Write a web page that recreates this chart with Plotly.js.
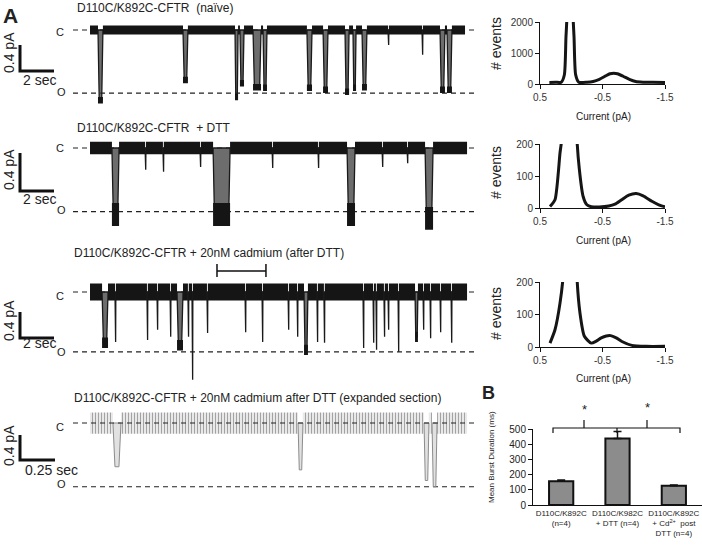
<!DOCTYPE html>
<html><head><meta charset="utf-8">
<script src="https://cdn.plot.ly/plotly-3.0.1.min.js"></script>
<style>html,body{margin:0;padding:0;background:#fff}#chart{width:702px;height:545px}</style>
</head><body><div id="chart"></div>
<script>
// ================= DATA =================
// Recording 1: D110C/K892C-CFTR (naive) — times in s, amplitudes in pA (closed = 0)
const rec1Start = [0.47, 5.47, 8.53, 8.82, 9.59, 10.18, 12.76, 13.71, 15.00, 15.47, 16.00, 17.53, 19.53, 20.59, 21.00];
const rec1End   = [0.76, 5.76, 8.71, 9.06, 10.06, 10.41, 13.06, 14.00, 15.24, 15.65, 16.29, 17.58, 19.58, 20.88, 21.29];
const rec1Amp   = [-1.08, -0.77, -1.03, -0.82, -0.88, -0.89, -0.89, -0.92, -0.95, -0.89, -0.88, -0.23, -0.38, -0.92, -0.92];
const rec1Length = 22.06, rec1OpenLevel = -0.97;

// Recording 2: + DTT
const rec2Start = [1.29, 3.24, 4.29, 6.47, 7.24, 10.71, 13.41, 15.12, 17.18, 18.65, 19.71];
const rec2End   = [1.71, 3.29, 4.34, 6.52, 8.24, 10.76, 13.46, 15.59, 17.23, 18.70, 20.18];
const rec2Amp   = [-0.70, -0.23, -0.25, -0.20, -0.70, -0.21, -0.21, -0.70, -0.20, -0.16, -0.74];
const rec2Length = 22.18, rec2OpenLevel = -0.67;

// Recording 3: + 20 nM cadmium (after DTT)
const rec3Start = [0.71, 1.47, 3.35, 3.94, 4.71, 5.12, 5.76, 6.00, 6.88, 9.12, 10.12, 11.65, 12.18, 12.59, 13.35, 13.76, 16.06, 16.65, 16.82, 17.29, 17.53, 18.12, 19.12, 19.59, 20.00, 20.59, 21.24];
const rec3End   = [1.06, 1.52, 3.40, 3.99, 4.76, 5.47, 5.81, 6.05, 6.93, 9.17, 10.17, 11.70, 12.23, 12.82, 13.40, 13.81, 16.11, 16.70, 16.87, 17.34, 17.58, 18.17, 19.29, 19.64, 20.05, 20.64, 21.29];
const rec3Amp   = [-0.78, -0.77, -0.74, -0.58, -0.69, -0.82, -0.69, -1.35, -0.63, -0.62, -0.77, -0.58, -0.69, -0.89, -0.77, -0.78, -0.86, -0.78, -0.89, -0.69, -0.58, -0.92, -0.69, -0.58, -0.71, -0.62, -0.78];
const rec3Length = 22.18, rec3OpenLevel = -0.92;
const expandedSection = [7.47, 10.35];

// Recording 4: expanded section
const rec4Start = [0.164, 1.486, 2.386, 2.443];
const rec4End   = [0.221, 1.521, 2.421, 2.479];
const rec4Amp   = [-0.70, -0.75, -0.92, -1.02];
const rec4Length = 2.693, rec4OpenLevel = -1.02;

// Amplitude histograms (current pA, # events)
const hist1X = [0.35, 0.25, 0.16, 0.11, 0.085, 0.07, 0.02, -0.03, -0.045, -0.07, -0.12, -0.25, -0.35, -0.45, -0.55, -0.62, -0.68, -0.74, -0.83, -0.93, -1.03, -1.15, -1.3, -1.5];
const hist1Y = [50, 55, 60, 300, 1500, 2100, 5000, 2100, 1500, 300, 60, 55, 80, 150, 260, 330, 350, 330, 250, 150, 80, 60, 55, 50];
const hist2X = [0.34, 0.26, 0.18, 0.15, 0.03, -0.09, -0.13, -0.19, -0.25, -0.32, -0.45, -0.6, -0.7, -0.8, -0.92, -1.04, -1.15, -1.29, -1.4, -1.5];
const hist2Y = [5, 26, 172, 220, 1500, 220, 120, 36, 10, 4, 3, 6, 12, 25, 40, 45, 38, 21, 10, 4];
const hist3X = [0.34, 0.26, 0.18, 0.13, 0.03, -0.09, -0.14, -0.21, -0.32, -0.4, -0.48, -0.56, -0.63, -0.72, -0.81, -0.97, -1.2, -1.5];
const hist3Y = [12, 53, 135, 220, 1500, 220, 104, 33, 12, 18, 28, 34, 35, 28, 17, 5, 2, 2];
const histTickVals = [0.5, -0.5, -1.5];
const histTickText = ['0.5', '-0.5', '-1.5'];

// Panel B: mean burst duration
const barLabels = ['D110C/K892C<br>(n=4)', 'D110C/K982C<br>+ DTT (n=4)', 'D110C/K892C<br>+ Cd<sup>2+</sup>\u00a0\u00a0post<br>DTT (n=4)'];
const barValues = [157, 437, 127];
const barErrors = [7, 46, 5];

// ================= LAYOUT HELPERS =================
const W = 702, H = 545;
const X = p => p / W, Y = p => 1 - p / H;
const FONT = 'Liberation Sans, Arial, sans-serif';
const TXT = '#222';
const layout = {
  width: W, height: H, margin: {l: 0, r: 0, t: 0, b: 0},
  paper_bgcolor: '#fff', plot_bgcolor: 'rgba(0,0,0,0)',
  showlegend: false, font: {family: FONT, color: TXT, size: 11},
  shapes: [], annotations: []
};
const data = [];
const sfx = n => (n === 1 ? '' : String(n));

function ann(text, px, py, size, extra) {
  layout.annotations.push(Object.assign({
    text: text, x: X(px), y: Y(py), xref: 'paper', yref: 'paper',
    showarrow: false, xanchor: 'center', yanchor: 'middle',
    font: {family: FONT, size: size, color: TXT}
  }, extra || {}));
}

// recordings: geometry (pixel) settings
const recs = [
  {start: rec1Start, end: rec1End, amp: rec1Amp, len: rec1Length, open: rec1OpenLevel, closedPy: 30, pps: 17, ppa: 65, top: 14, bottom: 112, barPy: 71, scaleSec: 2, scaleLbl: '2 sec', noiseC: 0.07, noiseO: 0.05, gray: false,
   title: 'D110C/K892C-CFTR\u00a0\u00a0(naïve)', titlePx: 75, titlePy: 8, lblPy: 53, secPx: 39, secPy: 80, cPy: 32, oPy: 92},
  {start: rec2Start, end: rec2End, amp: rec2Amp, len: rec2Length, open: rec2OpenLevel, closedPy: 148, pps: 17, ppa: 95, top: 134, bottom: 234, barPy: 191, scaleSec: 2, scaleLbl: '2 sec', noiseC: 0.065, noiseO: 0.12, gray: false,
   title: 'D110C/K892C-CFTR\u00a0\u00a0+ DTT', titlePx: 75, titlePy: 128, lblPy: 170, secPx: 39, secPy: 199, cPy: 148, oPy: 210},
  {start: rec3Start, end: rec3End, amp: rec3Amp, len: rec3Length, open: rec3OpenLevel, closedPy: 292, pps: 17, ppa: 65, top: 258, bottom: 392, barPy: 338, scaleSec: 2, scaleLbl: '2 sec', noiseC: 0.13, noiseO: 0.08, gray: false,
   title: 'D110C/K892C-CFTR + 20nM cadmium (after DTT)', titlePx: 72, titlePy: 253, lblPy: 321, secPx: 39, secPy: 343, cPy: 296, oPy: 352},
  {start: rec4Start, end: rec4End, amp: rec4Amp, len: rec4Length, open: rec4OpenLevel, closedPy: 423, pps: 140, ppa: 62.5, top: 404, bottom: 502, barPy: 460, scaleSec: 0.25, scaleLbl: '0.25 sec', noiseC: 0.17, noiseO: 0, gray: true,
   title: 'D110C/K892C-CFTR + 20nM cadmium after DTT (expanded section)', titlePx: 72, titlePy: 398, lblPy: 446, secPx: 51, secPy: 470, cPy: 427, oPy: 484}
];

recs.forEach((r, i) => {
  const n = i + 1, xa = 'x' + sfx(n), ya = 'y' + sfx(n);
  layout['xaxis' + sfx(n)] = {domain: [X(10), X(480)], range: [(10 - 90) / r.pps, (480 - 90) / r.pps], visible: false, anchor: ya, fixedrange: true};
  layout['yaxis' + sfx(n)] = {domain: [Y(r.bottom), Y(r.top)], range: [(r.closedPy - r.bottom) / r.ppa, (r.closedPy - r.top) / r.ppa], visible: false, anchor: xa, fixedrange: true};

  // opening polygons (filled, tapered toward the open level)
  const ox = [], oy = [];
  for (let k = 0; k < r.start.length; k++) {
    const d = r.end[k] - r.start[k];
    const inset = Math.min(d * 0.25, 0.08);
    ox.push(r.start[k], r.start[k] + inset, r.end[k] - inset, r.end[k], r.start[k], null);
    oy.push(0, r.amp[k], r.amp[k], 0, 0, null);
  }
  data.push({x: ox, y: oy, xaxis: xa, yaxis: ya, type: 'scatter', mode: 'lines', fill: 'toself',
    fillcolor: r.gray ? 'rgba(170,170,170,0.35)' : 'rgba(60,60,60,0.75)',
    line: {width: r.gray ? 1 : 1.3, color: r.gray ? '#8c8c8c' : '#1a1a1a'}, hoverinfo: 'skip'});

  // noise band polygons (closed intervals + longer open intervals)
  const bx = [], by = [];
  const rect = (t0, t1, c, h) => { bx.push(t0, t1, t1, t0, t0, null); by.push(c + h, c + h, c - h, c - h, c + h, null); };
  let prev = 0;
  for (let k = 0; k < r.start.length; k++) {
    rect(prev, r.start[k], 0, r.noiseC);
    if (r.noiseO > 0 && r.end[k] - r.start[k] > 0.15) rect(r.start[k], r.end[k], r.amp[k], r.noiseO);
    prev = r.end[k];
  }
  rect(prev, r.len, 0, r.noiseC);
  const band = {x: bx, y: by, xaxis: xa, yaxis: ya, type: 'scatter', mode: 'lines', fill: 'toself',
    line: {width: 0}, hoverinfo: 'skip'};
  if (r.gray) {
    band.fillcolor = 'rgba(255,255,255,0)';
    band.fillpattern = {shape: '|', fgcolor: '#a3a3a3', bgcolor: 'rgba(255,255,255,0)', size: 3, solidity: 0.5};
  } else {
    band.fillcolor = '#151515';
  }
  data.push(band);

  // dashed closed / open reference lines
  layout.shapes.push({type: 'line', xref: 'paper', yref: ya, x0: X(73), x1: X(476), y0: 0, y1: 0,
    line: {color: TXT, width: 1.2, dash: '5px,4px'}, layer: r.gray ? 'above' : 'below'});
  layout.shapes.push({type: 'line', xref: 'paper', yref: ya, x0: X(73), x1: X(478), y0: r.open, y1: r.open,
    line: {color: TXT, width: 1.2, dash: '5px,4px'}, layer: 'below'});

  // scale bar
  const tc = (20 - 90) / r.pps, vc = (r.closedPy - r.barPy) / r.ppa;
  layout.shapes.push({type: 'path', xref: xa, yref: ya,
    path: `M${tc},${vc + 0.4} L${tc},${vc} L${tc + r.scaleSec},${vc}`,
    line: {color: '#111', width: 3}});

  ann(r.title, r.titlePx, r.titlePy, 12, {xanchor: 'left'});
  ann('0.4 pA', 9, r.lblPy, 14, {textangle: -90});
  ann(r.scaleLbl, r.secPx, r.secPy, 14);
  ann('C', 60, r.cPy, 11);
  ann('O', 61, r.oPy, 11);
});

// bracket marking the expanded section on recording 3
layout.shapes.push({type: 'path', xref: 'x3', yref: 'paper',
  path: `M${expandedSection[0]},${Y(277)} L${expandedSection[0]},${Y(264)} M${expandedSection[0]},${Y(271)} L${expandedSection[1]},${Y(271)} M${expandedSection[1]},${Y(264)} L${expandedSection[1]},${Y(277)}`,
  line: {color: '#111', width: 1.5}});

// ================= HISTOGRAMS =================
const hists = [
  {x: hist1X, y: hist1Y, top: 22, bottom: 84, ymax: 2000, ticks: [0, 1000, 2000], evPy: 44, curPy: 117},
  {x: hist2X, y: hist2Y, top: 144, bottom: 208, ymax: 200, ticks: [0, 100, 200], evPy: 173, curPy: 240},
  {x: hist3X, y: hist3Y, top: 282, bottom: 347, ymax: 200, ticks: [0, 100, 200], evPy: 314, curPy: 378}
];
hists.forEach((h, i) => {
  const n = 5 + i, xa = 'x' + n, ya = 'y' + n;
  layout['xaxis' + n] = {domain: [X(540), X(665)], range: [0.5, -1.5], anchor: ya, showgrid: false, zeroline: false,
    showline: true, linecolor: '#111', linewidth: 1, ticks: 'outside', ticklen: 4, tickcolor: '#111',
    tickvals: histTickVals, ticktext: histTickText, tickfont: {size: 10, color: '#333', family: FONT}, fixedrange: true};
  layout['yaxis' + n] = {domain: [Y(h.bottom), Y(h.top)], range: [0, h.ymax], anchor: xa, showgrid: false, zeroline: false,
    showline: true, linecolor: '#111', linewidth: 1, ticks: 'outside', ticklen: 4, tickcolor: '#111',
    tickvals: h.ticks, tickfont: {size: 10, color: '#333', family: FONT}, fixedrange: true};
  data.push({x: h.x, y: h.y, xaxis: xa, yaxis: ya, type: 'scatter', mode: 'lines',
    line: {color: '#151515', width: 3, shape: 'spline', smoothing: 0.6}, hoverinfo: 'skip'});
  ann('# events', 496, h.evPy, 14, {textangle: -90});
  ann('Current (pA)', 603, h.curPy, 10);
});

// ================= PANEL B =================
layout.xaxis8 = {domain: [X(533), 1], anchor: 'y8', type: 'category', showgrid: false, zeroline: false,
  showline: true, linecolor: '#111', linewidth: 1, ticks: '', tickfont: {size: 8, color: TXT, family: FONT}, fixedrange: true};
layout.yaxis8 = {domain: [Y(505), Y(429)], range: [0, 500], anchor: 'x8', showgrid: false, zeroline: false,
  showline: true, linecolor: '#111', linewidth: 1, ticks: 'outside', ticklen: 4, tickcolor: '#111', dtick: 100,
  tickfont: {size: 10, color: TXT, family: FONT}, fixedrange: true};
data.push({type: 'bar', x: barLabels, y: barValues, xaxis: 'x8', yaxis: 'y8', width: 0.43,
  marker: {color: '#8c8c8c', line: {color: '#111', width: 2}},
  error_y: {type: 'data', array: barErrors, arrayminus: barErrors.map(() => 0), symmetric: false, color: '#111', thickness: 1.5, width: 4},
  hoverinfo: 'skip'});
ann('Mean Burst Duration (ms)', 491, 457, 8, {textangle: -90});

// significance braces
const P = (px, py) => `${X(px)},${Y(py)}`;
layout.shapes.push({type: 'path', xref: 'paper', yref: 'paper',
  path: `M${P(553, 433)} L${P(553, 428)} L${P(584, 428)} L${P(584, 420)} M${P(584, 428)} L${P(617, 428)} L${P(617, 433)} M${P(617, 428)} L${P(647, 428)} L${P(647, 420)} M${P(647, 428)} L${P(680, 428)} L${P(680, 433)}`,
  line: {color: '#111', width: 1.2}});
ann('*', 584, 409, 13);
ann('*', 647, 407, 13);

// panel letters
ann('<b>A</b>', 10, 15, 21);
ann('<b>B</b>', 488, 393, 18);

Plotly.newPlot('chart', data, layout, {displayModeBar: false, staticPlot: true});
</script></body></html>
